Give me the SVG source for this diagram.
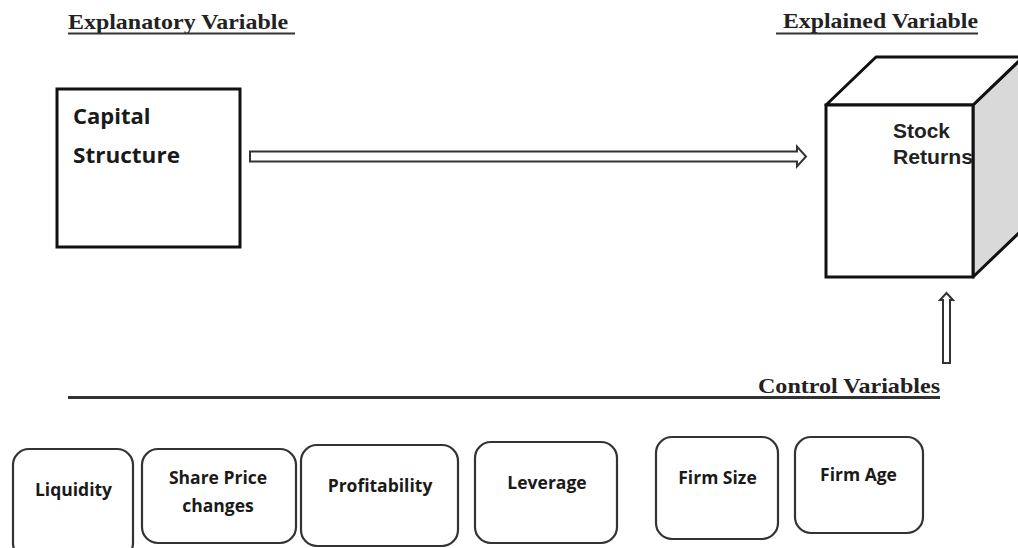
<svg xmlns="http://www.w3.org/2000/svg" width="1018" height="548" viewBox="0 0 1018 548">
<style>
.hdr{font-family:"Liberation Serif",serif;font-weight:bold;font-size:22px;fill:#222}
.ul{stroke:#333;stroke-width:2}
.lbl{font-family:"Open Sans","Liberation Sans",sans-serif;font-weight:bold;fill:#1a1a1a}
.ctl{fill:#fff;stroke:#333;stroke-width:2.2}
.arr{fill:#fff;stroke:#333;stroke-width:2;stroke-linejoin:miter}
</style>
<rect width="1018" height="548" fill="#fff"/>
<g id="headers">
<text class="hdr" x="68" y="29" textLength="220" lengthAdjust="spacingAndGlyphs">Explanatory Variable</text>
<line class="ul" x1="68" y1="33.5" x2="295" y2="33.5"/>
<text class="hdr" x="783" y="28" textLength="195" lengthAdjust="spacingAndGlyphs">Explained Variable</text>
<line class="ul" x1="776" y1="33.5" x2="978" y2="33.5"/>
<text class="hdr" x="758" y="393" font-size="23" textLength="182" lengthAdjust="spacingAndGlyphs">Control Variables</text>
<line x1="68" y1="397.5" x2="940" y2="397.5" stroke="#333" stroke-width="3"/>
</g>
<g id="capital-structure">
<rect x="57" y="89" width="183" height="158" fill="#fff" stroke="#111" stroke-width="3"/>
<text class="lbl" x="73" y="124" font-size="22">Capital</text>
<text class="lbl" x="73" y="163" font-size="22" textLength="107" lengthAdjust="spacingAndGlyphs">Structure</text>
</g>
<g id="stock-returns">
<polygon points="973,105 1023,57 1023,229 973,277" fill="#d9d9d9" stroke="#111" stroke-width="3" stroke-linejoin="round"/>
<polygon points="826,105 876,57 1023,57 973,105" fill="#fff" stroke="#111" stroke-width="3" stroke-linejoin="round"/>
<rect x="826" y="105" width="147" height="172" fill="#fff" stroke="#111" stroke-width="3"/>
<text x="893" y="138" font-family="Liberation Sans,Arial,sans-serif" font-weight="bold" font-size="20" fill="#222" textLength="57" lengthAdjust="spacingAndGlyphs">Stock</text>
<text x="893" y="164" font-family="Liberation Sans,Arial,sans-serif" font-weight="bold" font-size="20" fill="#222" textLength="80" lengthAdjust="spacingAndGlyphs">Returns</text>
</g>
<g id="connectors">
<path class="arr" d="M250,151.5 H797 V146.5 L806,156.5 L797,166.5 V161.5 H250 Z"/>
<path class="arr" d="M943,363 V300 H940 L946.5,293 L953,300 H950 V363 Z"/>
</g>
<g id="liquidity">
<rect class="ctl" x="13" y="449" width="120" height="110" rx="16"/>
<text class="lbl" x="73.5" y="496" font-size="17.5" text-anchor="middle">Liquidity</text>
</g>
<g id="share-price-changes">
<rect class="ctl" x="142" y="449" width="154" height="94" rx="16"/>
<text class="lbl" x="218" y="484" font-size="17.5" text-anchor="middle">Share Price</text>
<text class="lbl" x="218" y="512" font-size="17.5" text-anchor="middle">changes</text>
</g>
<g id="profitability">
<rect class="ctl" x="301" y="445" width="157" height="101" rx="16"/>
<text class="lbl" x="380" y="492" font-size="17.5" text-anchor="middle">Profitability</text>
</g>
<g id="leverage">
<rect class="ctl" x="475" y="442" width="142" height="101" rx="16"/>
<text class="lbl" x="547" y="489" font-size="17.5" text-anchor="middle">Leverage</text>
</g>
<g id="firm-size">
<rect class="ctl" x="656" y="437" width="122" height="102" rx="16"/>
<text class="lbl" x="717.5" y="484" font-size="17.5" text-anchor="middle">Firm Size</text>
</g>
<g id="firm-age">
<rect class="ctl" x="795" y="437" width="128" height="96" rx="16"/>
<text class="lbl" x="858.5" y="481" font-size="17.5" text-anchor="middle">Firm Age</text>
</g>
</svg>
